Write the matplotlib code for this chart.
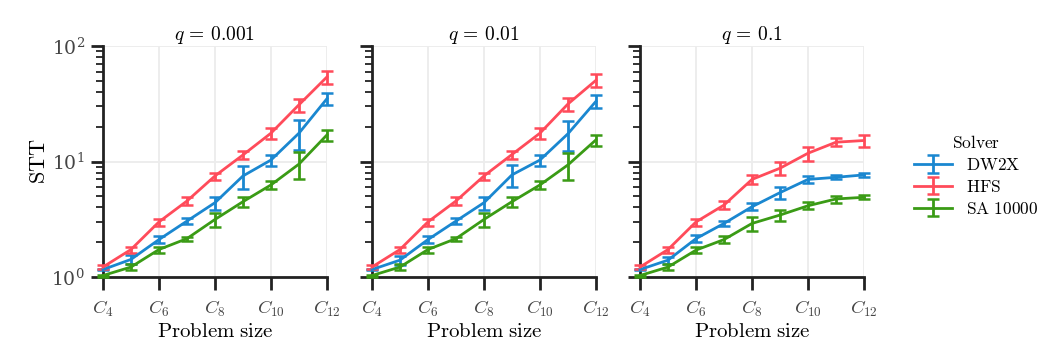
import numpy as np
import matplotlib
matplotlib.use("Agg")
import matplotlib.pyplot as plt

plt.rcParams['mathtext.fontset'] = 'cm'
plt.rcParams['font.family'] = 'serif'

# problem sizes C4 .. C12
sizes = [4, 5, 6, 7, 8, 9, 10, 11, 12]
tick_sizes = [4, 6, 8, 10, 12]
tick_labels = [r'$C_{4}$', r'$C_{6}$', r'$C_{8}$', r'$C_{10}$', r'$C_{12}$']
q_labels = [r'$q\,=\,0.001$', r'$q\,=\,0.01$', r'$q\,=\,0.1$']
solvers = ['DW2X', 'HFS', 'SA 10000']

# STT values per q panel
dw2x_q001 = [1.16, 1.42, 2.11, 3.05, 4.4, 7.5, 10.3, 17.6, 35]
hfs_q001 = [1.22, 1.73, 3.0, 4.55, 7.5, 11.4, 17.6, 31, 54]
sa_q001 = [1.03, 1.22, 1.73, 2.15, 3.15, 4.49, 6.27, 9.5, 17]
dw2x_q001_err = [0.02, 0.12, 0.15, 0.17, 0.56, 1.67, 1.08, 5.1, 4.4]
hfs_q001_err = [0.04, 0.1, 0.21, 0.38, 0.52, 0.95, 1.85, 3.9, 6.9]
sa_q001_err = [0.02, 0.07, 0.1, 0.09, 0.45, 0.47, 0.52, 2.5, 1.8]

dw2x_q01 = [1.16, 1.4, 2.11, 3.05, 4.4, 7.66, 10.3, 17.4, 33.2]
hfs_q01 = [1.22, 1.73, 3.0, 4.55, 7.5, 11.5, 17.6, 31.5, 50.5]
sa_q01 = [1.03, 1.22, 1.73, 2.15, 3.15, 4.49, 6.27, 9.35, 15.4]
dw2x_q01_err = [0.02, 0.12, 0.15, 0.17, 0.56, 1.67, 1.08, 5.0, 4.2]
hfs_q01_err = [0.04, 0.1, 0.21, 0.38, 0.52, 0.95, 1.85, 4.0, 6.4]
sa_q01_err = [0.02, 0.07, 0.1, 0.09, 0.45, 0.47, 0.52, 2.4, 1.7]

dw2x_q1 = [1.16, 1.4, 2.15, 2.91, 4.06, 5.38, 7.0, 7.3, 7.66]
hfs_q1 = [1.22, 1.73, 3.0, 4.2, 7.0, 8.75, 11.8, 14.7, 15.2]
sa_q1 = [1.03, 1.22, 1.71, 2.11, 2.91, 3.44, 4.14, 4.74, 4.9]
dw2x_q1_err = [0.02, 0.1, 0.15, 0.16, 0.28, 0.68, 0.48, 0.29, 0.26]
hfs_q1_err = [0.04, 0.1, 0.21, 0.35, 0.62, 1.15, 1.65, 1.2, 1.9]
sa_q1_err = [0.02, 0.07, 0.1, 0.15, 0.4, 0.36, 0.29, 0.33, 0.2]

values = [[dw2x_q001, hfs_q001, sa_q001],
          [dw2x_q01, hfs_q01, sa_q01],
          [dw2x_q1, hfs_q1, sa_q1]]
errors = [[dw2x_q001_err, hfs_q001_err, sa_q001_err],
          [dw2x_q01_err, hfs_q01_err, sa_q01_err],
          [dw2x_q1_err, hfs_q1_err, sa_q1_err]]

colors = ['#1a87d0', '#ff4b5a', '#3a9b15']

fig = plt.figure(figsize=(10.39, 3.46), dpi=100)
lefts = [0.0991, 0.358, 0.616]
axes = []
for i, left in enumerate(lefts):
    ax = fig.add_axes([left, 0.1994, 0.2156, 0.6676])
    axes.append(ax)
    for j, name in enumerate(solvers):
        ax.errorbar(sizes, values[i][j], yerr=errors[i][j], color=colors[j],
                    lw=2.0, elinewidth=2.0, capsize=4, capthick=1.8,
                    label=r'$\mathrm{' + name.replace(' ', r'\ ') + '}$',
                    clip_on=False, zorder=3)
    ax.set_yscale('log')
    ax.set_ylim(1, 100)
    ax.set_xlim(4, 12)
    ax.set_xticks(tick_sizes)
    ax.set_xticklabels(tick_labels, fontsize=13.5, color='#444444')
    ax.grid(True, which='major', color='#ececec', lw=1.3)
    ax.set_axisbelow(True)
    for s in ['top', 'right']:
        ax.spines[s].set_visible(False)
    for s in ['left', 'bottom']:
        ax.spines[s].set_linewidth(2.0)
        ax.spines[s].set_color('#222222')
    ax.tick_params(which='major', direction='out', length=9, width=2.0,
                   color='#222222', pad=7)
    ax.tick_params(which='minor', direction='out', length=5, width=1.3,
                   color='#222222')
    ax.tick_params(axis='x', which='minor', bottom=False)
    ax.set_title(q_labels[i], fontsize=14, pad=4)
    ax.set_xlabel(r'$\mathrm{Problem\ size}$', fontsize=15, labelpad=2)
    if i == 0:
        ax.set_ylabel(r'$\mathrm{STT}$', fontsize=16, labelpad=1)
        ax.tick_params(axis='y', labelsize=13.5, labelcolor='#444444', pad=4)
    else:
        ax.tick_params(axis='y', which='both', labelleft=False)

handles, labels = axes[2].get_legend_handles_labels()
leg = fig.legend(handles, labels, loc='center left', bbox_to_anchor=(0.873, 0.49),
                 frameon=False, fontsize=12.5, title=r'$\mathrm{Solver}$',
                 title_fontsize=12.5, handlelength=2.2, labelspacing=0.28,
                 borderaxespad=0)

fig.savefig('out.png', dpi=100)
